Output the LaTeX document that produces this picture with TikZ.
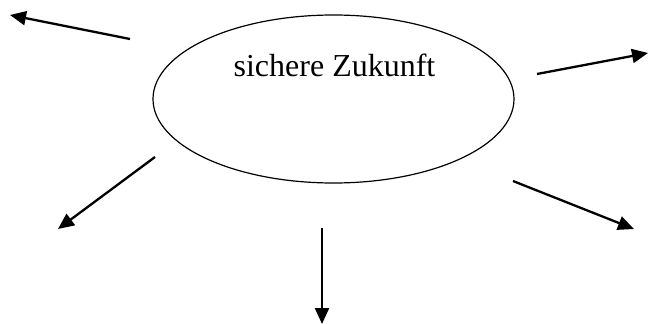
\documentclass[tikz,border=0pt]{standalone}
\usepackage{fontspec}
\setmainfont{Liberation Serif}
\usetikzlibrary{shapes.geometric,arrows.meta}
\tikzset{pfeil/.style={line width=2.3pt, -{Triangle[length=16pt,width=14pt]}}}

\begin{document}
\begin{tikzpicture}[x=1pt, y=-1pt]
				\useasboundingbox (0, 0) rectangle (649, 324);
				
				\node[ellipse, draw, line width=1.2pt, minimum width=361pt, minimum height=168pt, inner sep=0pt] (zukunft) at (333.5, 99) {};
				\node (titel) at (334.5, 65) {\fontsize{32}{38}\selectfont sichere Zukunft};
				
				\coordinate (a1) at (130, 39);    \coordinate (b1) at (10, 15);
				\coordinate (a2) at (537, 74);    \coordinate (b2) at (648, 53);
				\coordinate (a3) at (155, 157);   \coordinate (b3) at (58, 229);
				\coordinate (a4) at (513, 181);   \coordinate (b4) at (634, 229);
				\coordinate (a5) at (322, 228);   \coordinate (b5) at (322, 324);
				
				\draw[pfeil] (a1) -- (b1);
				\draw[pfeil] (a2) -- (b2);
				\draw[pfeil] (a3) -- (b3);
				\draw[pfeil] (a4) -- (b4);
				\draw[pfeil] (a5) -- (b5);
			\end{tikzpicture}
\end{document}
